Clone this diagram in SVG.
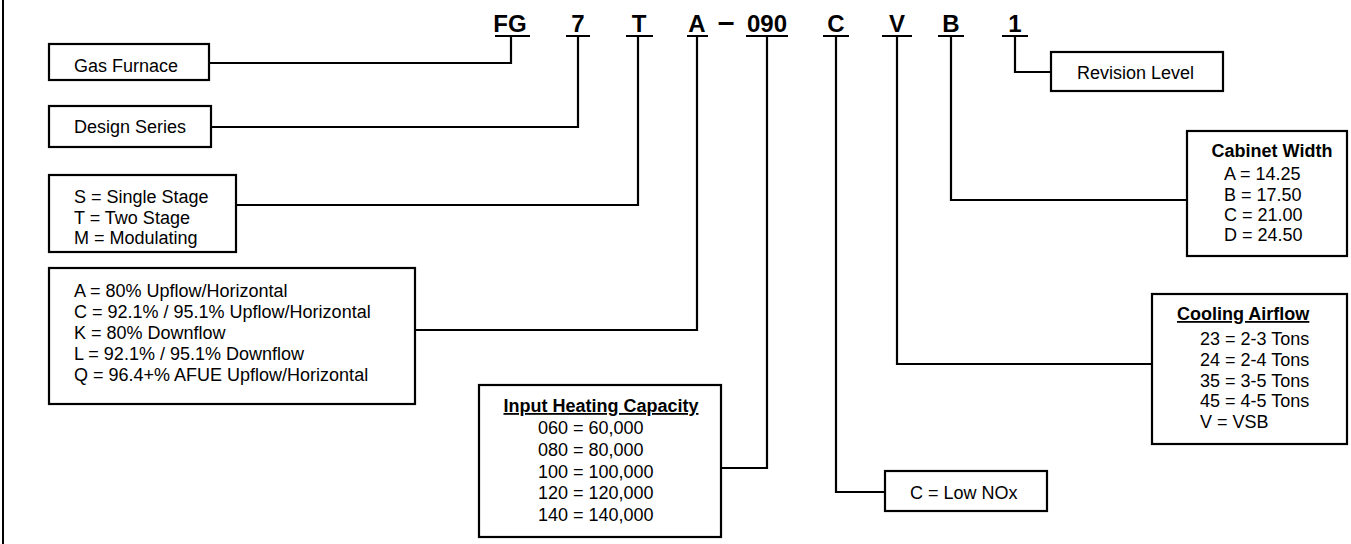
<svg xmlns="http://www.w3.org/2000/svg" width="1351" height="544" viewBox="0 0 1351 544">
<style>
.box{fill:#fff;stroke:#000;stroke-width:2.2}
.ln{fill:none;stroke:#000;stroke-width:2.2}
.t{font-family:"Liberation Sans",Arial,sans-serif;font-size:18px;fill:#000}
.b{font-weight:bold}
.u{text-decoration:underline}
.code{font-family:"Liberation Sans",Arial,sans-serif;font-size:24px;font-weight:bold;fill:#000;text-anchor:middle}
.mid{text-anchor:middle}
</style>
<rect width="1351" height="544" fill="#fff"/>
<line x1="3" y1="0" x2="3" y2="544" stroke="#000" stroke-width="2"/>
<g id="code">
<text class="code" x="510" y="32">FG</text>
<text class="code" x="578" y="32">7</text>
<text class="code" x="639" y="32">T</text>
<text class="code" x="697" y="32">A</text>
<text class="code" x="726" y="32" style="font-size:30px">–</text>
<text class="code" x="767" y="32">090</text>
<text class="code" x="836" y="32">C</text>
<text class="code" x="897" y="32">V</text>
<text class="code" x="951" y="32">B</text>
<text class="code" x="1015" y="32">1</text>
</g>
<g id="connectors">
<path class="ln" d="M495 36H530M566 36H590M626 36H653M687 36H708M746 36H788M823 36H849M882 36H912M938 36H964M1002 36H1028"/>
<path class="ln" d="M511 36V63H209"/>
<path class="ln" d="M578 36V127H211"/>
<path class="ln" d="M638 36V205H236"/>
<path class="ln" d="M697 36V330H415"/>
<path class="ln" d="M767 36V468H721"/>
<path class="ln" d="M836 36V492H885"/>
<path class="ln" d="M897 36V364H1152"/>
<path class="ln" d="M951 36V200H1187"/>
<path class="ln" d="M1015 36V72H1051"/>
</g>
<g id="gas-furnace">
<rect class="box" x="49" y="44" width="160" height="36"/>
<text class="t" x="74" y="72">Gas Furnace</text>
</g>
<g id="design-series">
<rect class="box" x="49" y="106" width="162" height="41"/>
<text class="t" x="74" y="133">Design Series</text>
</g>
<g id="stage">
<rect class="box" x="49" y="175" width="187" height="77"/>
<text class="t" x="74" y="203">S = Single Stage</text>
<text class="t" x="74" y="224">T = Two Stage</text>
<text class="t" x="74" y="244">M = Modulating</text>
</g>
<g id="airflow-type">
<rect class="box" x="49" y="268" width="366" height="136"/>
<text class="t" x="74" y="297">A = 80% Upflow/Horizontal</text>
<text class="t" x="74" y="318">C = 92.1% / 95.1% Upflow/Horizontal</text>
<text class="t" x="74" y="339">K = 80% Downflow</text>
<text class="t" x="74" y="360">L = 92.1% / 95.1% Downflow</text>
<text class="t" x="74" y="381">Q = 96.4+% AFUE Upflow/Horizontal</text>
</g>
<g id="input-heating">
<rect class="box" x="479" y="385" width="242" height="152"/>
<text class="t b u mid" x="601" y="412">Input Heating Capacity</text>
<text class="t" x="538" y="434">060 = 60,000</text>
<text class="t" x="538" y="456">080 = 80,000</text>
<text class="t" x="538" y="478">100 = 100,000</text>
<text class="t" x="538" y="499">120 = 120,000</text>
<text class="t" x="538" y="521">140 = 140,000</text>
</g>
<g id="low-nox">
<rect class="box" x="885" y="471" width="162" height="40"/>
<text class="t" x="910" y="499">C = Low NOx</text>
</g>
<g id="cooling-airflow">
<rect class="box" x="1152" y="294" width="195" height="150"/>
<text class="t b u" x="1177" y="320">Cooling Airflow</text>
<text class="t" x="1200" y="345">23 = 2-3 Tons</text>
<text class="t" x="1200" y="366">24 = 2-4 Tons</text>
<text class="t" x="1200" y="387">35 = 3-5 Tons</text>
<text class="t" x="1200" y="407">45 = 4-5 Tons</text>
<text class="t" x="1200" y="428">V = VSB</text>
</g>
<g id="cabinet-width">
<rect class="box" x="1187" y="131" width="160" height="125"/>
<text class="t b mid" x="1272" y="157">Cabinet Width</text>
<text class="t" x="1224" y="180">A = 14.25</text>
<text class="t" x="1224" y="201">B = 17.50</text>
<text class="t" x="1224" y="221">C = 21.00</text>
<text class="t" x="1224" y="241">D = 24.50</text>
</g>
<g id="revision-level">
<rect class="box" x="1051" y="52" width="172" height="39"/>
<text class="t" x="1077" y="79">Revision Level</text>
</g>
</svg>
